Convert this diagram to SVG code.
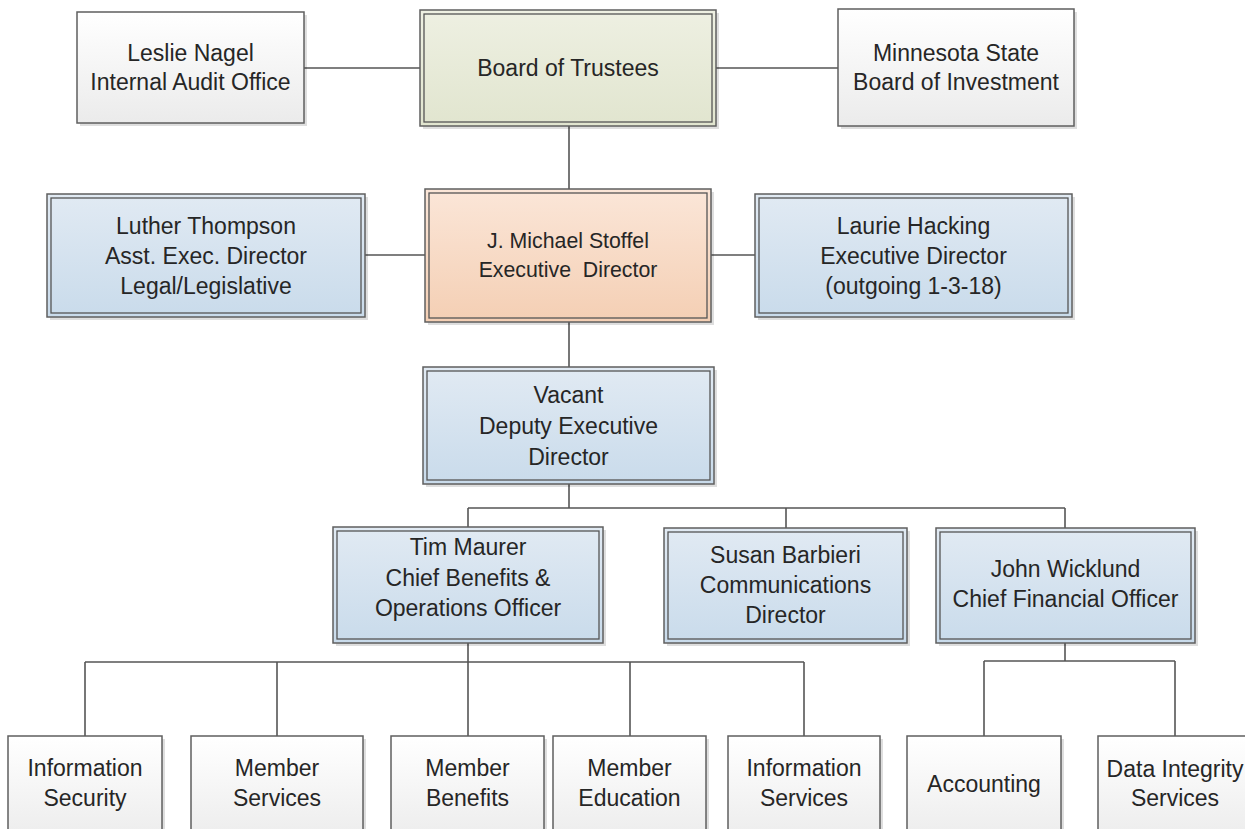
<svg xmlns="http://www.w3.org/2000/svg" width="1245" height="829" viewBox="0 0 1245 829">
<defs>
<linearGradient id="gGrey" x1="0" y1="0" x2="0" y2="1"><stop offset="0" stop-color="#ffffff"/><stop offset="1" stop-color="#ebebeb"/></linearGradient>
<linearGradient id="gGreen" x1="0" y1="0" x2="0" y2="1"><stop offset="0" stop-color="#eef0e2"/><stop offset="1" stop-color="#e1e5cf"/></linearGradient>
<linearGradient id="gPeach" x1="0" y1="0" x2="0" y2="1"><stop offset="0" stop-color="#fbe6d8"/><stop offset="1" stop-color="#f4cfb4"/></linearGradient>
<linearGradient id="gBlue" x1="0" y1="0" x2="0" y2="1"><stop offset="0" stop-color="#e1eaf3"/><stop offset="1" stop-color="#c9dbeb"/></linearGradient>
</defs>
<style>
.sh{fill:#000;opacity:0.13}
.box{stroke:#5f5f5f;stroke-width:1.5}
.in{fill:none;stroke:#555;stroke-width:1.3}
.grey{fill:url(#gGrey)}
.green{fill:url(#gGreen)}
.peach{fill:url(#gPeach)}
.blue{fill:url(#gBlue)}
text{font-family:"Liberation Sans",Arial,sans-serif;font-size:23px;fill:#262626;text-anchor:middle}
.sm{font-size:21.3px}
.conn line{stroke:#555;stroke-width:1.6}
</style>
<g class="conn" id="connectors">
<line x1="304" y1="68" x2="420" y2="68"/>
<line x1="716" y1="68" x2="838" y2="68"/>
<line x1="569" y1="126" x2="569" y2="189"/>
<line x1="365" y1="255" x2="425" y2="255"/>
<line x1="711" y1="255" x2="755" y2="255"/>
<line x1="569" y1="322" x2="569" y2="367"/>
<line x1="569" y1="484" x2="569" y2="508"/>
<line x1="468" y1="508" x2="1065" y2="508"/>
<line x1="468" y1="508" x2="468" y2="527"/>
<line x1="786" y1="508" x2="786" y2="528"/>
<line x1="1065" y1="508" x2="1065" y2="528"/>
<line x1="468" y1="643" x2="468" y2="662"/>
<line x1="85" y1="662" x2="804" y2="662"/>
<line x1="85" y1="662" x2="85" y2="736"/>
<line x1="277" y1="662" x2="277" y2="736"/>
<line x1="468" y1="662" x2="468" y2="736"/>
<line x1="630" y1="662" x2="630" y2="736"/>
<line x1="804" y1="662" x2="804" y2="736"/>
<line x1="1065" y1="643" x2="1065" y2="661"/>
<line x1="984" y1="661" x2="1175" y2="661"/>
<line x1="984" y1="661" x2="984" y2="736"/>
<line x1="1175" y1="661" x2="1175" y2="736"/>
</g>
<g id="leslie">
<rect class="sh" x="80" y="15" width="227" height="111"/>
<rect class="box grey" x="77" y="12" width="227" height="111"/>
<text x="190.5" y="61">Leslie Nagel</text>
<text x="190.5" y="90">Internal Audit Office</text>
</g>
<g id="board">
<rect class="sh" x="423" y="13" width="296" height="116"/>
<rect class="box green" x="420" y="10" width="296" height="116"/>
<rect class="in" x="424" y="14" width="288" height="108"/>
<text x="568" y="76">Board of Trustees</text>
</g>
<g id="minnesota">
<rect class="sh" x="841" y="12" width="236" height="117"/>
<rect class="box grey" x="838" y="9" width="236" height="117"/>
<text x="956" y="61">Minnesota State</text>
<text x="956" y="90">Board of Investment</text>
</g>
<g id="luther">
<rect class="sh" x="50" y="197" width="318" height="123"/>
<rect class="box blue" x="47" y="194" width="318" height="123"/>
<rect class="in" x="51" y="198" width="310" height="115"/>
<text x="206" y="233.5">Luther Thompson</text>
<text x="206" y="263.5">Asst. Exec. Director</text>
<text x="206" y="293.5">Legal/Legislative</text>
</g>
<g id="stoffel">
<rect class="sh" x="428" y="192" width="286" height="133"/>
<rect class="box peach" x="425" y="189" width="286" height="133"/>
<rect class="in" x="429" y="193" width="278" height="125"/>
<text class="sm" x="568" y="248">J. Michael Stoffel</text>
<text class="sm" x="568" y="277">Executive&#160; Director</text>
</g>
<g id="laurie">
<rect class="sh" x="758" y="197" width="317" height="123"/>
<rect class="box blue" x="755" y="194" width="317" height="123"/>
<rect class="in" x="759" y="198" width="309" height="115"/>
<text x="913.5" y="233.5">Laurie Hacking</text>
<text x="913.5" y="263.5">Executive Director</text>
<text x="913.5" y="293.5">(outgoing 1-3-18)</text>
</g>
<g id="vacant">
<rect class="sh" x="426" y="370" width="291" height="117"/>
<rect class="box blue" x="423" y="367" width="291" height="117"/>
<rect class="in" x="427" y="371" width="283" height="109"/>
<text x="568.5" y="403">Vacant</text>
<text x="568.5" y="434">Deputy Executive</text>
<text x="568.5" y="465">Director</text>
</g>
<g id="tim">
<rect class="sh" x="336" y="530" width="270" height="116"/>
<rect class="box blue" x="333" y="527" width="270" height="116"/>
<rect class="in" x="337" y="531" width="262" height="108"/>
<text x="468" y="555">Tim Maurer</text>
<text x="468" y="585.5">Chief Benefits &amp;</text>
<text x="468" y="616">Operations Officer</text>
</g>
<g id="susan">
<rect class="sh" x="667" y="531" width="243" height="115"/>
<rect class="box blue" x="664" y="528" width="243" height="115"/>
<rect class="in" x="668" y="532" width="235" height="107"/>
<text x="785.5" y="563">Susan Barbieri</text>
<text x="785.5" y="593">Communications</text>
<text x="785.5" y="623">Director</text>
</g>
<g id="john">
<rect class="sh" x="939" y="531" width="259" height="115"/>
<rect class="box blue" x="936" y="528" width="259" height="115"/>
<rect class="in" x="940" y="532" width="251" height="107"/>
<text x="1065.5" y="577">John Wicklund</text>
<text x="1065.5" y="607">Chief Financial Officer</text>
</g>
<g id="infosec">
<rect class="sh" x="11" y="739" width="154" height="110"/>
<rect class="box grey" x="8" y="736" width="154" height="110"/>
<text x="85" y="776">Information</text>
<text x="85" y="806">Security</text>
</g>
<g id="memserv">
<rect class="sh" x="194" y="739" width="172" height="110"/>
<rect class="box grey" x="191" y="736" width="172" height="110"/>
<text x="277" y="776">Member</text>
<text x="277" y="806">Services</text>
</g>
<g id="memben">
<rect class="sh" x="394" y="739" width="153" height="110"/>
<rect class="box grey" x="391" y="736" width="153" height="110"/>
<text x="467.5" y="776">Member</text>
<text x="467.5" y="806">Benefits</text>
</g>
<g id="memedu">
<rect class="sh" x="556" y="739" width="153" height="110"/>
<rect class="box grey" x="553" y="736" width="153" height="110"/>
<text x="629.5" y="776">Member</text>
<text x="629.5" y="806">Education</text>
</g>
<g id="infoserv">
<rect class="sh" x="731" y="739" width="152" height="110"/>
<rect class="box grey" x="728" y="736" width="152" height="110"/>
<text x="804" y="776">Information</text>
<text x="804" y="806">Services</text>
</g>
<g id="accounting">
<rect class="sh" x="910" y="739" width="154" height="110"/>
<rect class="box grey" x="907" y="736" width="154" height="110"/>
<text x="984" y="792">Accounting</text>
</g>
<g id="dataint">
<rect class="sh" x="1101" y="739" width="154" height="110"/>
<rect class="box grey" x="1098" y="736" width="154" height="110"/>
<text x="1175" y="777">Data Integrity</text>
<text x="1175" y="806">Services</text>
</g>
</svg>
